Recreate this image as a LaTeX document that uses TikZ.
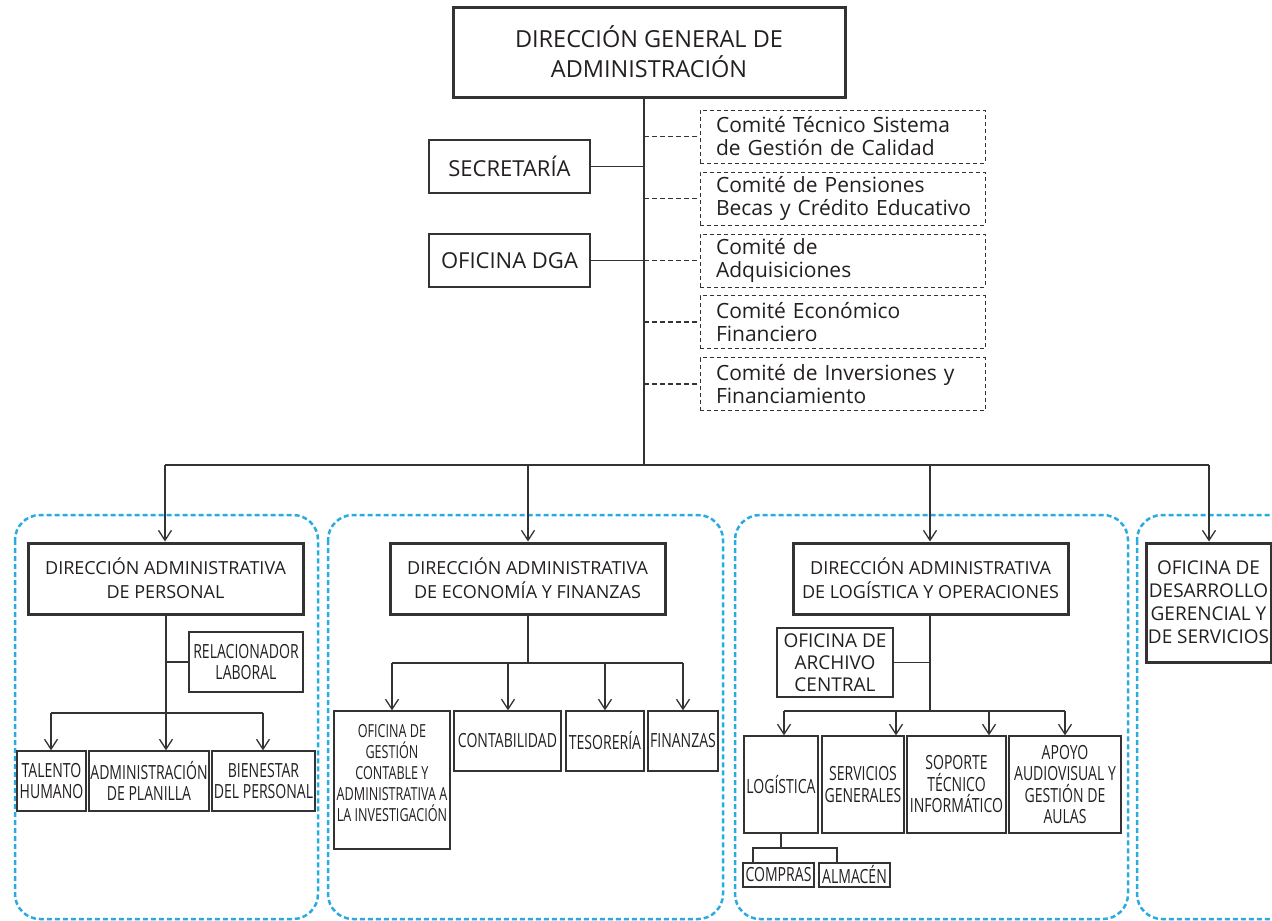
\documentclass[tikz,border=0pt]{standalone}
\usepackage{fontspec}
\setmainfont{Open Sans}
\newfontfamily\cond{Open Sans}[FakeStretch=0.72]
\newfontfamily\condb{Open Sans}[FakeStretch=0.70]
\usetikzlibrary{arrows.meta}
\definecolor{ink}{RGB}{35,31,32}
\definecolor{ln}{RGB}{51,51,51}
\definecolor{sky}{RGB}{41,171,226}
\hbadness=10000 \hfuzz=50pt
\begin{document}
\begin{tikzpicture}[x=1pt,y=-1pt,
  every node/.style={text=ink,inner sep=0pt,align=center},
  bx/.style={draw=ln,line width=1.3pt},
  thick box/.style={draw=ln,line width=3pt},
  cbox/.style={draw=ln,line width=1pt,dash pattern=on 4pt off 3pt,align=left,
      minimum width=285pt,minimum height=53pt,text width=253pt,inner xsep=16pt,
      font=\fontsize{21}{23}\selectfont},
  grp/.style={draw=sky,line width=2.5pt,dash pattern=on 5pt off 3pt,rounded corners=25pt},
  con/.style={draw=ln,line width=1.3pt},
  arr/.style={con,-{Straight Barb[length=10pt,width=13pt,line width=1.3pt]}},
  dcon/.style={draw=ln,line width=1.3pt,dash pattern=on 5pt off 3pt},
  big/.style={font=\fontsize{23.5}{30}\selectfont},
  mid/.style={font=\fontsize{18}{24}\selectfont},
  sm/.style={font=\cond\fontsize{19.5}{21.5}\selectfont},
  smn/.style={font=\fontsize{19}{21.7}\selectfont}]
\useasboundingbox (0,0) rectangle (1272,921);
% groups
\draw[grp] (15,515) rectangle (318,919);
\draw[grp] (328,515) rectangle (723,919);
\draw[grp] (735,515) rectangle (1128,919);
\draw[grp] (1137,515) rectangle (1320,919);
% top
\node[thick box,big,minimum width=392pt,minimum height=90pt] (top) at (649,52) {DIRECCIÓN GENERAL DE\\ADMINISTRACIÓN};
\coordinate (T) at (644,97);
\coordinate (B) at (644,465);
\draw[con] (T) -- (B);
\node[bx,font=\fontsize{22}{26}\selectfont,minimum width=161pt,minimum height=53pt] (sec) at (509.5,166.5) {SECRETARÍA};
\node[bx,font=\fontsize{22}{26}\selectfont,minimum width=161pt,minimum height=53pt] (dga) at (509.5,260.5) {OFICINA DGA};
\draw[con] (sec.east) -- (sec.east -| T);
\draw[con] (dga.east) -- (dga.east -| T);
\node[cbox] (c1) at (842.5,136.5) {\mbox{Comité Técnico Sistema}\\\mbox{de Gestión de Calidad}};
\node[cbox] (c2) at (842.5,198.5) {\mbox{Comité de Pensiones}\\\mbox{Becas y Crédito Educativo}};
\node[cbox] (c3) at (842.5,260.5) {\mbox{Comité de}\\\mbox{Adquisiciones}};
\node[cbox] (c4) at (842.5,322) {\mbox{Comité Económico}\\\mbox{Financiero}};
\node[cbox] (c5) at (842.5,384) {\mbox{Comité de Inversiones y}\\\mbox{Financiamiento}};
\foreach \c in {c1,c2,c3,c4,c5} \draw[dcon] (\c.west -| T) -- (\c.west);
% level 2
\node[thick box,mid,minimum width=275pt,minimum height=71pt] (dap) at (165.5,578.5) {DIRECCIÓN ADMINISTRATIVA\\DE PERSONAL};
\node[thick box,mid,minimum width=275pt,minimum height=71pt] (dae) at (527.5,578.5) {DIRECCIÓN ADMINISTRATIVA\\DE ECONOMÍA Y FINANZAS};
\node[thick box,mid,minimum width=275pt,minimum height=71pt] (dal) at (930.5,578.5) {DIRECCIÓN ADMINISTRATIVA\\DE LOGÍSTICA Y OPERACIONES};
\node[thick box,font=\fontsize{19}{23}\selectfont,minimum width=125pt,minimum height=119pt] (odg) at (1208.5,602.5) {OFICINA DE\\DESARROLLO\\GERENCIAL Y\\DE SERVICIOS};
\coordinate (b1) at (165,465);
\coordinate (b2) at (528,465);
\coordinate (b3) at (930,465);
\coordinate (b4) at (1209,465);
\draw[con] (b1) -- (b4);
\draw[arr] (b1) -- (b1 |- dap.north);
\draw[arr] (b2) -- (b2 |- dae.north);
\draw[arr] (b3) -- (b3 |- dal.north);
\draw[arr] (b4) -- (b4 |- odg.north);
% personal
\node[bx,sm,minimum width=114pt,minimum height=60pt] (rel) at (246,662) {RELACIONADOR\\LABORAL};
\node[bx,sm,minimum width=69pt,minimum height=60pt] (th) at (51.5,781) {TALENTO\\HUMANO};
\node[bx,sm,minimum width=120pt,minimum height=60pt] (ap) at (149,781) {ADMINISTRACIÓN\\DE PLANILLA};
\node[bx,sm,minimum width=103pt,minimum height=60pt] (bp) at (263.5,781) {BIENESTAR\\DEL PERSONAL};
\coordinate (p0) at (166,614);
\coordinate (p1) at (51,713);
\coordinate (p2) at (166,713);
\coordinate (p3) at (263,713);
\draw[con] (p0) -- (p2);
\draw[con] (rel.west) -- (rel.west -| p0);
\draw[con] (p1) -- (p3);
\draw[arr] (p1) -- (p1 |- th.north);
\draw[arr] (p2) -- (p2 |- ap.north);
\draw[arr] (p3) -- (p3 |- bp.north);
% economia
\node[bx,font=\condb\fontsize{18}{21}\selectfont,minimum width=116pt,minimum height=138pt] (og) at (392,780) {OFICINA DE\\GESTIÓN\\CONTABLE Y\\ADMINISTRATIVA A\\LA INVESTIGACIÓN\\[-7pt]};
\node[bx,sm,minimum width=107pt,minimum height=60pt] (cont) at (507.5,741) {CONTABILIDAD};
\node[bx,sm,minimum width=78pt,minimum height=60pt] (tes) at (605,741) {TESORERÍA};
\node[bx,sm,minimum width=70pt,minimum height=60pt] (fin) at (683,741) {FINANZAS};
\coordinate (e0) at (528,614);
\coordinate (e1) at (392,663);
\coordinate (e2) at (508,663);
\coordinate (e3) at (605,663);
\coordinate (e4) at (683,663);
\coordinate (em) at (528,663);
\draw[con] (e0) -- (em);
\draw[con] (e1) -- (e4);
\draw[arr] (e1) -- (e1 |- og.north);
\draw[arr] (e2) -- (e2 |- cont.north);
\draw[arr] (e3) -- (e3 |- tes.north);
\draw[arr] (e4) -- (e4 |- fin.north);
% logistica
\node[bx,smn,minimum width=116pt,minimum height=69pt] (arch) at (835,662.5) {OFICINA DE\\ARCHIVO\\CENTRAL};
\node[bx,sm,minimum width=74pt,minimum height=97pt] (log) at (781,784.5) {LOGÍSTICA};
\node[bx,sm,minimum width=82pt,minimum height=97pt] (sg) at (863,784.5) {SERVICIOS\\GENERALES};
\node[bx,sm,minimum width=99pt,minimum height=97pt] (sop) at (956.5,784.5) {SOPORTE\\TÉCNICO\\INFORMÁTICO};
\node[bx,sm,minimum width=112pt,minimum height=97pt] (apo) at (1065,784.5) {APOYO\\AUDIOVISUAL Y\\GESTIÓN DE\\AULAS};
\node[bx,sm,minimum width=71pt,minimum height=24pt] (comp) at (778.5,875) {COMPRAS};
\node[bx,sm,minimum width=71pt,minimum height=24pt] (alm) at (854.5,875) {ALMACÉN};
\coordinate (l0) at (930,614);
\coordinate (lm) at (930,711);
\coordinate (l1) at (784,711);
\coordinate (l2) at (896,711);
\coordinate (l3) at (989,711);
\coordinate (l4) at (1065,711);
\draw[con] (l0) -- (lm);
\draw[con] (arch.east) -- (arch.east -| l0);
\draw[con] (l1) -- (l4);
\draw[arr] (l1) -- (l1 |- log.north);
\draw[arr] (l2) -- (l2 |- sg.north);
\draw[arr] (l3) -- (l3 |- sop.north);
\draw[arr] (l4) -- (l4 |- apo.north);
\coordinate (k0) at (781,848);
\coordinate (k1) at (753,848);
\coordinate (k2) at (837,848);
\draw[con] (log.south) -- (k0);
\draw[con] (comp.north -| k1) -- (k1) -- (k2) -- (alm.north -| k2);
\end{tikzpicture}
\end{document}
